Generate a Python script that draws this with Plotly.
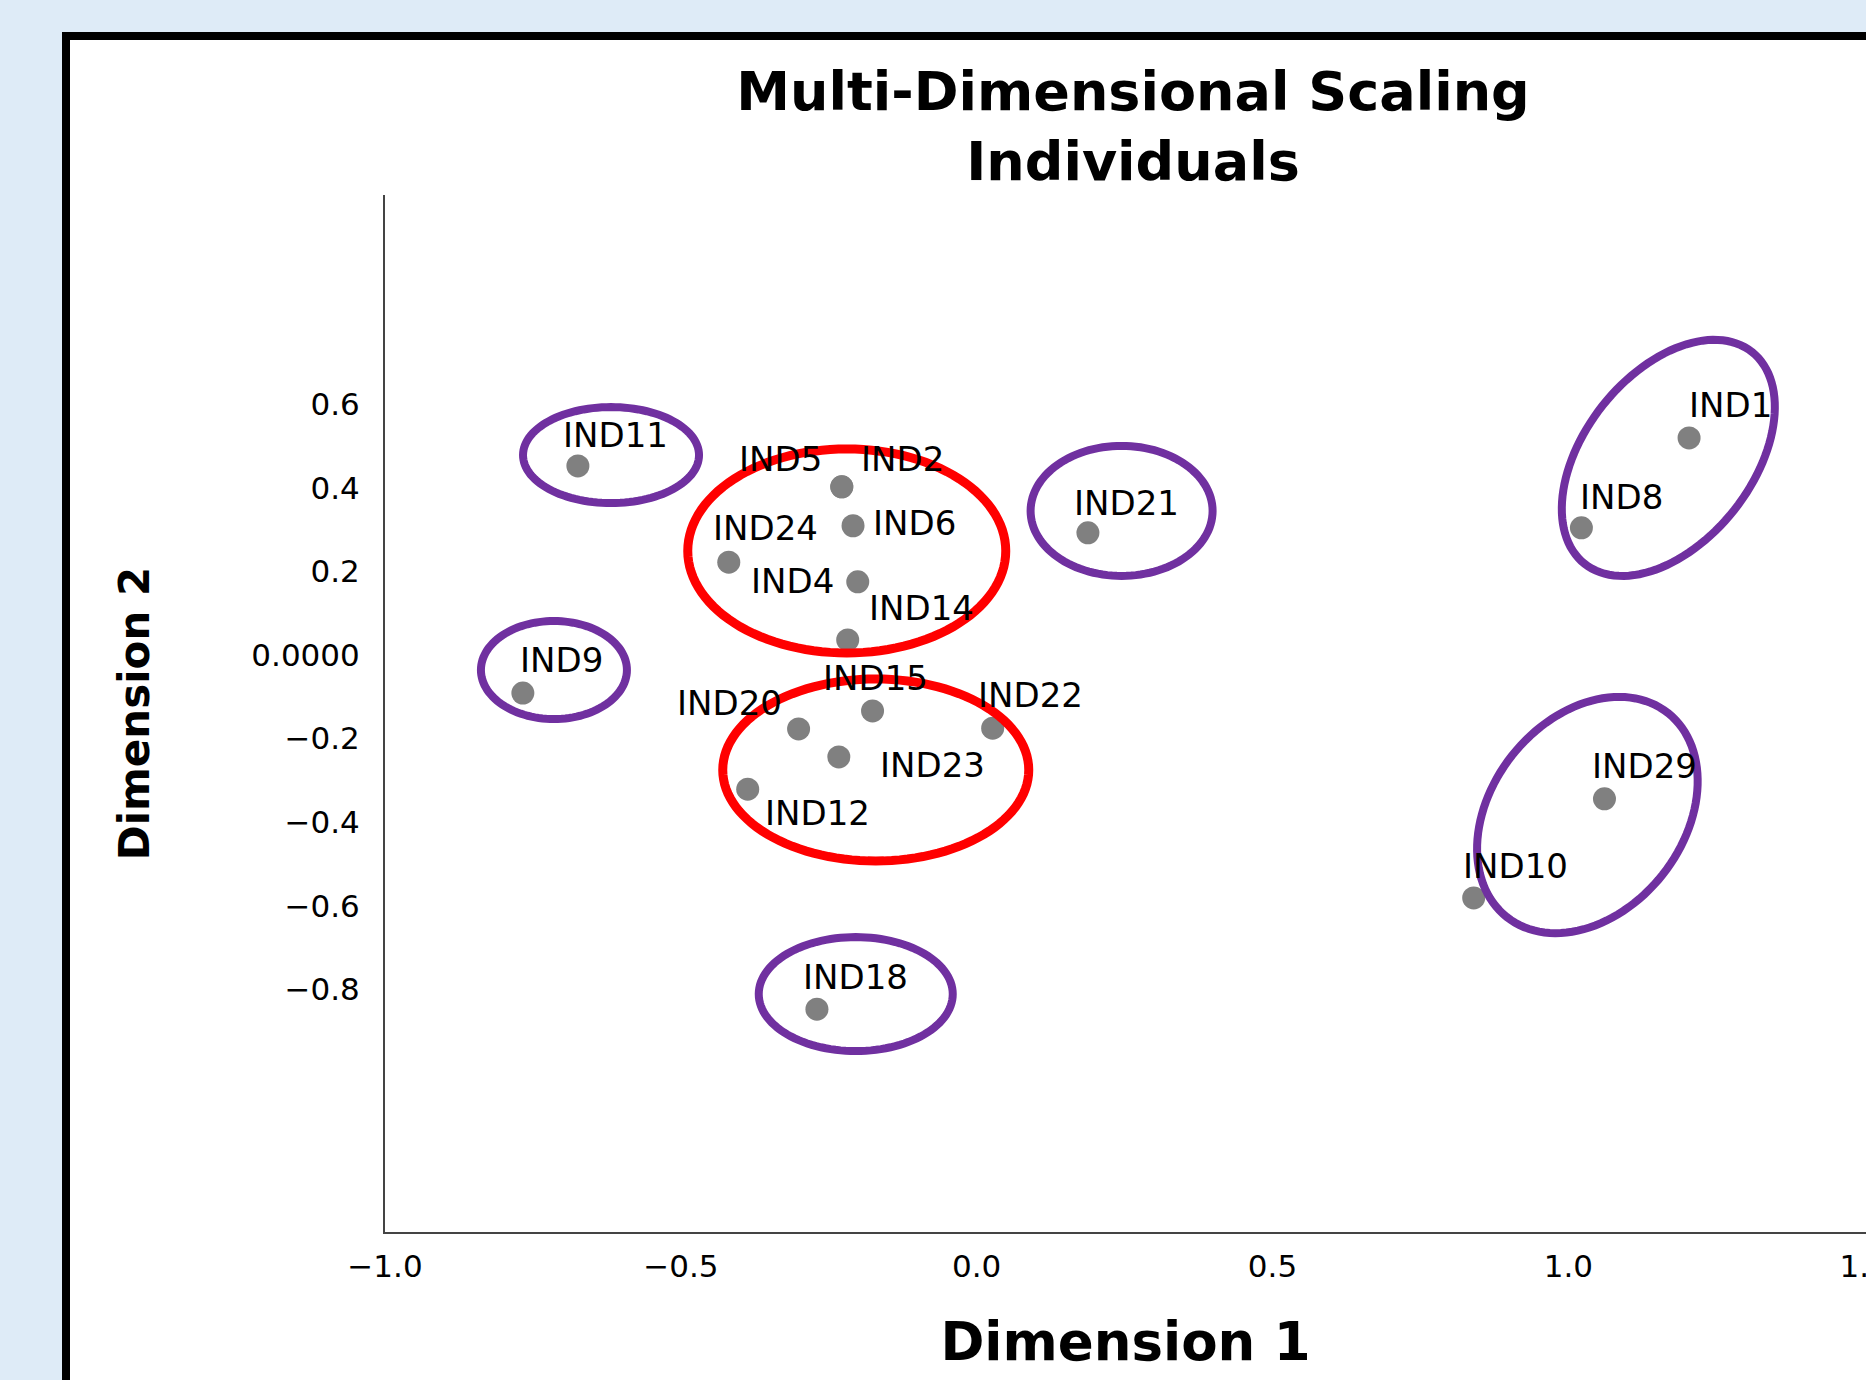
import numpy as np
import plotly.graph_objects as go

# ---------------- data ----------------
labels = ["IND11", "IND9", "IND5", "IND2", "IND6", "IND24", "IND4", "IND14",
          "IND20", "IND15", "IND22", "IND23", "IND12", "IND21", "IND1", "IND8",
          "IND29", "IND10", "IND18"]
dim1 = [-0.674, -0.767, -0.228, -0.228, -0.209, -0.419, -0.201, -0.218,
        -0.301, -0.176, 0.027, -0.233, -0.387, 0.188, 1.204, 1.022,
        1.061, 0.840, -0.270]
dim2 = [0.452, -0.091, 0.402, 0.402, 0.309, 0.222, 0.175, 0.036,
        -0.177, -0.134, -0.175, -0.244, -0.321, 0.292, 0.519, 0.304,
        -0.344, -0.581, -0.847]

x_tickvals = [-1.0, -0.5, 0.0, 0.5, 1.0, 1.5]
x_ticktext = ["\u22121.0", "\u22120.5", "0.0", "0.5", "1.0", "1.5"]
y_tickvals = [0.6, 0.4, 0.2, 0.0, -0.2, -0.4, -0.6, -0.8]
y_ticktext = ["0.6", "0.4", "0.2", "0.0000", "\u22120.2", "\u22120.4", "\u22120.6", "\u22120.8"]

# ---------------- layout / style ----------------
W, H = 1866, 1380
ML, MR, MT, MB = 385, 0, 195, 148
XR = [-1.0, 1.503]
YR = [-1.38, 1.10]
PW, PH = W - ML - MR, H - MT - MB
PX_X = PW / (XR[1] - XR[0])
PX_Y = PH / (YR[1] - YR[0])

BG = "#DEEBF7"
LABEL_FONT = dict(family="DejaVu Sans", size=34, color="black")

# label placement (anchor, x shift px, y shift px)
label_style = {
    "IND11": ("left", -17, 31), "IND9": ("left", -5, 33),
    "IND5": ("right", -18, 28), "IND2": ("left", 17, 28),
    "IND6": ("left", 18, 3), "IND24": ("left", -18, 34),
    "IND4": ("right", -22, 1), "IND14": ("left", 19, 32),
    "IND20": ("right", -15, 26), "IND15": ("center", 3, 33),
    "IND22": ("left", -17, 33), "IND23": ("left", 39, -8),
    "IND12": ("left", 15, -24), "IND21": ("left", -16, 30),
    "IND1": ("left", -2, 33), "IND8": ("left", -3, 31),
    "IND29": ("left", -14, 33), "IND10": ("left", -13, 32),
    "IND18": ("left", -16, 32),
}

PURPLE = "#7030A0"
RED = "#FF0000"
# decorative ellipses: centre (data), semi-axes (px), rotation (deg), colour, width
ellipses = [
    (-0.618, 0.478, 88, 48, 0, PURPLE, 8),
    (-0.7145, -0.036, 73, 49, 0, PURPLE, 8),
    (-0.2196, 0.2488, 159, 102, 0, RED, 9),
    (-0.1706, -0.2751, 153, 91, 0, RED, 9),
    (0.2449, 0.3445, 91, 65, 0, PURPLE, 8),
    (-0.2044, -0.811, 97, 57, 0, PURPLE, 8),
    (1.1689, 0.4713, 135, 84, 51.7, PURPLE, 8),
    (1.0321, -0.3828, 130, 96, 51.7, PURPLE, 8),
]


def ellipse_path(cx, cy, a, b, ang):
    t = np.linspace(0, 2 * np.pi, 121)
    th = np.deg2rad(ang)
    dx = a * np.cos(t) * np.cos(th) - b * np.sin(t) * np.sin(th)
    dy = a * np.cos(t) * np.sin(th) + b * np.sin(t) * np.cos(th)
    xs = cx + dx / PX_X
    ys = cy + dy / PX_Y
    pts = [f"{x:.5f},{y:.5f}" for x, y in zip(xs, ys)]
    return "M " + " L ".join(pts) + " Z"


fig = go.Figure()
fig.add_trace(go.Scatter(
    x=dim1, y=dim2, mode="markers",
    marker=dict(size=23, color="#808080", line=dict(width=0)),
    text=labels, hoverinfo="text", showlegend=False,
))

annotations = []
for lab, xv, yv in zip(labels, dim1, dim2):
    anc, xs, ys = label_style[lab]
    annotations.append(dict(
        x=xv, y=yv, xref="x", yref="y", text=lab, showarrow=False,
        xanchor=anc, yanchor="middle", xshift=xs, yshift=ys, font=LABEL_FONT,
    ))

shapes = []
# white panel with black frame
shapes.append(dict(
    type="rect", xref="paper", yref="paper", layer="below",
    x0=(66 - ML) / PW, x1=(W + 60 - ML) / PW,
    y0=-(60 + MB) / PH, y1=(H - MB - 36) / PH,
    fillcolor="white", line=dict(color="black", width=8),
))
for cx, cy, a, b, ang, col, lw in ellipses:
    shapes.append(dict(
        type="path", xref="x", yref="y", path=ellipse_path(cx, cy, a, b, ang),
        line=dict(color=col, width=lw), fillcolor="rgba(0,0,0,0)", layer="above",
    ))

fig.update_layout(
    template="none",
    width=W, height=H,
    margin=dict(l=ML, r=MR, t=MT, b=MB, pad=0),
    paper_bgcolor=BG,
    plot_bgcolor="rgba(0,0,0,0)",
    title=dict(
        text="Multi-Dimensional Scaling<br>Individuals",
        font=dict(family="DejaVu Sans", size=54, color="black", weight="bold"),
        x=1133 / W, xref="container", xanchor="center",
        y=1 - 110 / H, yref="container", yanchor="top",
    ),
    xaxis=dict(
        range=XR, autorange=False, automargin=False,
        tickvals=x_tickvals, ticktext=x_ticktext,
        ticks="outside", ticklen=6, tickcolor="rgba(0,0,0,0)",
        tickfont=dict(family="DejaVu Sans", size=31, color="black"),
        ticklabeloverflow="allow",
        showgrid=False, zeroline=False,
        showline=True, linecolor="#444444", linewidth=2,
        title=dict(text="Dimension 1", standoff=40,
                   font=dict(family="DejaVu Sans", size=53, color="black", weight="bold")),
    ),
    yaxis=dict(
        range=YR, autorange=False, automargin=False,
        tickvals=y_tickvals, ticktext=y_ticktext,
        ticks="outside", ticklen=17, tickcolor="rgba(0,0,0,0)",
        tickfont=dict(family="DejaVu Sans", size=31, color="black"),
        showgrid=False, zeroline=False,
        showline=True, linecolor="#444444", linewidth=2,
        title=dict(text="Dimension 2", standoff=89,
                   font=dict(family="DejaVu Sans", size=42, color="black", weight="bold")),
    ),
    annotations=annotations,
    shapes=shapes,
)

fig.write_html(
    "out.html",
    config={"displayModeBar": False},
    post_script=("document.body.style.margin='0';"
                 "document.body.style.background='" + BG + "';"),
)
